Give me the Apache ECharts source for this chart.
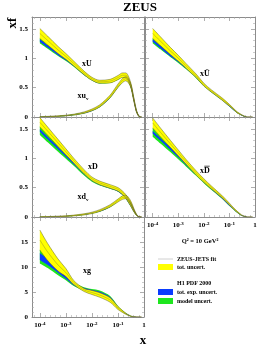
<!DOCTYPE html>
<html><head><meta charset="utf-8">
<script src="https://cdn.jsdelivr.net/npm/echarts@6/dist/echarts.min.js"></script>
<style>html,body{margin:0;padding:0;background:#fff}#c{width:269px;height:352px}</style>
</head><body><div id="c"></div>
<script>
// ---- data ----
const XS = [1e-4, 2e-4, 5e-4, 1e-3, 2e-3, 5e-3, 0.01, 0.02, 0.05, 0.1, 0.15, 0.2, 0.3, 0.4, 0.5, 0.6, 0.7, 0.8];
const X_TICKS = [1e-4, 1e-3, 1e-2, 1e-1, 1];

// xU
const xU_zeus    = [1.42, 1.30, 1.14, 1.03, 0.91, 0.75, 0.65, 0.60, 0.61, 0.67, 0.71, 0.71, 0.57, 0.32, 0.12, 0.03, 0.00, 0.00];
const xU_zeusErr = [0.085,0.075,0.06, 0.05, 0.04, 0.03, 0.025,0.025,0.03, 0.035,0.04, 0.04, 0.035,0.025,0.015,0.005,0.00, 0.00];
const xU_h1      = [1.30, 1.20, 1.07, 0.98, 0.88, 0.73, 0.64, 0.59, 0.60, 0.66, 0.70, 0.69, 0.56, 0.31, 0.12, 0.03, 0.00, 0.00];
const xU_h1Exp   = [0.02, 0.02, 0.02, 0.015,0.015,0.015,0.015,0.015,0.015,0.02, 0.02, 0.02, 0.02, 0.015,0.01, 0.005,0.00, 0.00];
const xU_h1Mod   = [0.045,0.04, 0.035,0.03, 0.025,0.02, 0.02, 0.02, 0.02, 0.025,0.025,0.025,0.025,0.02, 0.01, 0.005,0.00, 0.00];
// xu_v
const xuv_zeus    = [0.005,0.008,0.015,0.025,0.04, 0.075,0.12, 0.19, 0.35, 0.53, 0.62, 0.65, 0.55, 0.31, 0.11, 0.03, 0.00, 0.00];
const xuv_zeusErr = [0.002,0.003,0.005,0.006,0.008,0.012,0.015,0.018,0.022,0.03, 0.035,0.035,0.03, 0.02, 0.01, 0.004,0.00, 0.00];
const xuv_h1      = [0.005,0.008,0.014,0.023,0.038,0.07, 0.112,0.18, 0.34, 0.52, 0.615,0.645,0.54, 0.30, 0.105,0.028,0.00, 0.00];
const xuv_h1Exp   = [0.001,0.002,0.003,0.004,0.005,0.007,0.008,0.01, 0.012,0.015,0.015,0.015,0.015,0.01, 0.006,0.003,0.00, 0.00];
const xuv_h1Mod   = [0.002,0.003,0.004,0.006,0.008,0.01, 0.012,0.015,0.018,0.02, 0.02, 0.02, 0.02, 0.015,0.008,0.004,0.00, 0.00];
// xUbar
const xUb_zeus    = [1.42, 1.29, 1.12, 1.00, 0.87, 0.70, 0.55, 0.44, 0.31, 0.20, 0.13, 0.08, 0.035,0.01, 0.00, 0.00, 0.00, 0.00];
const xUb_zeusErr = [0.085,0.075,0.06, 0.05, 0.04, 0.03, 0.025,0.02, 0.02, 0.015,0.01, 0.01, 0.005,0.003,0.00, 0.00, 0.00, 0.00];
const xUb_h1      = [1.30, 1.19, 1.05, 0.95, 0.84, 0.68, 0.54, 0.43, 0.30, 0.19, 0.12, 0.075,0.03, 0.008,0.00, 0.00, 0.00, 0.00];
const xUb_h1Exp   = [0.02, 0.02, 0.02, 0.015,0.015,0.01, 0.01, 0.01, 0.01, 0.01, 0.008,0.006,0.004,0.002,0.00, 0.00, 0.00, 0.00];
const xUb_h1Mod   = [0.045,0.04, 0.035,0.03, 0.025,0.02, 0.015,0.015,0.012,0.012,0.01, 0.008,0.005,0.003,0.00, 0.00, 0.00, 0.00];
// xD
const xD_zeus    = [1.61, 1.46, 1.26, 1.11, 0.96, 0.77, 0.65, 0.58, 0.52, 0.47, 0.41, 0.35, 0.22, 0.11, 0.04, 0.01, 0.00, 0.00];
const xD_zeusErr = [0.08, 0.07, 0.06, 0.05, 0.04, 0.035,0.03, 0.03, 0.03, 0.03, 0.03, 0.03, 0.025,0.015,0.008,0.003,0.00, 0.00];
const xD_h1      = [1.47, 1.34, 1.17, 1.04, 0.91, 0.74, 0.63, 0.56, 0.50, 0.45, 0.39, 0.33, 0.20, 0.10, 0.04, 0.01, 0.00, 0.00];
const xD_h1Exp   = [0.02, 0.02, 0.02, 0.015,0.015,0.015,0.015,0.015,0.015,0.015,0.015,0.015,0.01, 0.008,0.004,0.002,0.00, 0.00];
const xD_h1Mod   = [0.075,0.07, 0.06, 0.05, 0.04, 0.035,0.03, 0.025,0.02, 0.02, 0.02, 0.02, 0.015,0.01, 0.005,0.002,0.00, 0.00];
// xd_v
const xdv_zeus    = [0.003,0.005,0.01, 0.015,0.025,0.045,0.07, 0.11, 0.19, 0.28, 0.33, 0.34, 0.26, 0.14, 0.05, 0.01, 0.00, 0.00];
const xdv_zeusErr = [0.002,0.003,0.004,0.005,0.007,0.01, 0.012,0.015,0.02, 0.025,0.03, 0.03, 0.025,0.015,0.008,0.003,0.00, 0.00];
const xdv_h1      = [0.003,0.005,0.01, 0.015,0.024,0.043,0.066,0.10, 0.18, 0.28, 0.34, 0.35, 0.24, 0.12, 0.045,0.01, 0.00, 0.00];
const xdv_h1Exp   = [0.001,0.001,0.002,0.003,0.004,0.005,0.006,0.008,0.01, 0.012,0.012,0.012,0.01, 0.008,0.004,0.002,0.00, 0.00];
const xdv_h1Mod   = [0.002,0.002,0.003,0.004,0.005,0.007,0.008,0.01, 0.014,0.016,0.016,0.016,0.014,0.01, 0.005,0.002,0.00, 0.00];
// xDbar
const xDb_zeus    = [1.60, 1.44, 1.24, 1.09, 0.94, 0.75, 0.62, 0.50, 0.35, 0.22, 0.14, 0.09, 0.03, 0.01, 0.00, 0.00, 0.00, 0.00];
const xDb_zeusErr = [0.085,0.075,0.06, 0.05, 0.04, 0.035,0.03, 0.025,0.02, 0.015,0.012,0.01, 0.006,0.003,0.00, 0.00, 0.00, 0.00];
const xDb_h1      = [1.44, 1.32, 1.16, 1.03, 0.90, 0.73, 0.60, 0.48, 0.33, 0.20, 0.13, 0.08, 0.025,0.008,0.00, 0.00, 0.00, 0.00];
const xDb_h1Exp   = [0.02, 0.02, 0.02, 0.015,0.015,0.012,0.01, 0.01, 0.01, 0.008,0.006,0.005,0.003,0.002,0.00, 0.00, 0.00, 0.00];
const xDb_h1Mod   = [0.075,0.07, 0.06, 0.05, 0.04, 0.03, 0.025,0.02, 0.015,0.012,0.01, 0.008,0.005,0.003,0.00, 0.00, 0.00, 0.00];
// xg
const xg_zeus    = [15.4, 13.0, 10.4, 8.9, 6.9, 5.4, 4.9, 4.4, 3.4, 1.8, 1.1, 0.65, 0.2, 0.05, 0.01, 0.00, 0.00, 0.00];
const xg_zeusErr = [2.0,  1.7,  1.2,  0.8, 0.4, 0.3, 0.4, 0.45,0.45,0.3, 0.2, 0.12, 0.05,0.02, 0.005,0.00, 0.00, 0.00];
const xg_h1      = [12.1, 11.0, 9.3,  8.0, 6.6, 5.6, 5.2, 4.85,3.8, 1.95,1.15,0.68, 0.2, 0.05, 0.01, 0.00, 0.00, 0.00];
const xg_h1Exp   = [0.7,  0.6,  0.45, 0.35,0.25,0.2, 0.2, 0.2, 0.2, 0.12,0.08,0.05, 0.02,0.01, 0.00, 0.00, 0.00, 0.00];
const xg_h1Mod   = [1.4,  1.2,  0.95, 0.65,0.4, 0.35,0.4, 0.45,0.4, 0.25,0.15,0.1,  0.04,0.02, 0.005,0.00, 0.00, 0.00];

// ---- styling ----
const SERIF = '"Liberation Serif", "DejaVu Serif", serif';
const YELLOW = '#ffff00', BLUE = '#0a3cff', GREEN = '#1ee61e', EDGE = '#5e5e22', MID = '#7a7a2a';
const AX = '#8c8c8c';
const LOGMIN = -4.301;  // log10 of the left edge (5e-5)

const grids = [
  {left: 32,  top: 17,  width: 112, height: 100},
  {left: 145, top: 17,  width: 110, height: 100},
  {left: 32,  top: 117, width: 112, height: 100},
  {left: 145, top: 117, width: 110, height: 100},
  {left: 32,  top: 217, width: 112, height: 100}
];
const yMax = [1.7, 1.7, 1.7, 1.7, 20];
const yInt = [0.5, 0.5, 0.5, 0.5, 5];
const showXLab = [false, false, false, true, true];
const showYLab = [true, false, true, false, true];

const tickExps = X_TICKS.map(t => Math.round(Math.log10(t)));
function xLabFmt(v) {
  const e = Math.round(v);
  if (Math.abs(v - e) > 0.01 || tickExps.indexOf(e) < 0) return '';
  if (e === 0) return '1';
  return '10{s|' + e + '}';
}

const xAxis = [], yAxis = [];
grids.forEach((g, i) => {
  const xc = {
    type: 'value', gridIndex: i, min: LOGMIN, max: 0, splitNumber: 4,
    splitLine: {show: false},
    axisLine: {show: true, onZero: false, lineStyle: {color: AX, width: 1}},
    axisTick: {show: true, inside: true, length: 4, lineStyle: {color: AX, width: 0.7}},
    minorTick: {show: true, splitNumber: 5, length: 2, lineStyle: {color: '#aaa', width: 0.6}}
  };
  xAxis.push(Object.assign({}, xc, {position: 'bottom', axisLabel: {
    show: showXLab[i], formatter: xLabFmt, margin: 4, color: '#000',
    fontFamily: SERIF, fontWeight: 'bold', fontSize: 7, lineHeight: 9,
    rich: {s: {fontSize: 5, fontFamily: SERIF, fontWeight: 'bold', verticalAlign: 'top', lineHeight: 5}}
  }}));
  xAxis.push(Object.assign({}, xc, {position: 'top', axisLabel: {show: false}}));
  const yc = {
    type: 'value', gridIndex: i, min: 0, max: yMax[i], interval: yInt[i],
    splitLine: {show: false},
    axisLine: {show: true, onZero: false, lineStyle: {color: AX, width: 1}},
    axisTick: {show: true, inside: true, length: 4, lineStyle: {color: AX, width: 0.7}},
    minorTick: {show: true, splitNumber: 5, length: 2, lineStyle: {color: '#aaa', width: 0.6}}
  };
  yAxis.push(Object.assign({}, yc, {position: 'left', axisLabel: {
    show: showYLab[i], showMaxLabel: false, margin: 4, color: '#000',
    fontFamily: SERIF, fontWeight: 'bold', fontSize: 7
  }}));
  yAxis.push(Object.assign({}, yc, {position: 'right', axisLabel: {show: false}}));
});

const LX_DATA = XS.map(x => Math.log10(x));
const series = [];
let sid = 0;
// points are [y, log10 x] so that the stacked (first numeric) dimension is y
function pts(vals) { return LX_DATA.map((x, k) => [vals[k], x]); }
function band(gi, lo, hi, color, z, edge) {
  const st = 'b' + (sid++);
  const ls = edge ? {color: EDGE, width: 0.5} : {width: 0, opacity: 0};
  const common = {type: 'line', xAxisIndex: gi * 2, yAxisIndex: gi * 2, stack: st, stackStrategy: 'all',
    encode: {x: 1, y: 0}, showSymbol: false, symbol: 'none', smooth: 0.3, silent: true, animation: false, z: z};
  series.push(Object.assign({}, common, {data: pts(lo), lineStyle: ls}));
  series.push(Object.assign({}, common, {data: pts(hi.map((v, k) => v - lo[k])), lineStyle: ls,
    areaStyle: {color: color, opacity: 1}}));
}
function pdf(gi, zc, ze, hc, he, hm) {
  band(gi, hc.map((v, k) => v - hm[k]), hc.map((v, k) => v + hm[k]), GREEN, 2, false);
  band(gi, hc.map((v, k) => v - he[k]), hc.map((v, k) => v + he[k]), BLUE, 3, false);
  band(gi, zc.map((v, k) => v - ze[k]), zc.map((v, k) => v + ze[k]), YELLOW, 4, true);
  series.push({type: 'line', xAxisIndex: gi * 2, yAxisIndex: gi * 2, showSymbol: false, symbol: 'none',
    encode: {x: 1, y: 0}, smooth: 0.3, silent: true, animation: false, z: 5,
    data: pts(zc), lineStyle: {color: MID, width: 0.4}});
}
pdf(0, xU_zeus, xU_zeusErr, xU_h1, xU_h1Exp, xU_h1Mod);
pdf(0, xuv_zeus, xuv_zeusErr, xuv_h1, xuv_h1Exp, xuv_h1Mod);
pdf(1, xUb_zeus, xUb_zeusErr, xUb_h1, xUb_h1Exp, xUb_h1Mod);
pdf(2, xD_zeus, xD_zeusErr, xD_h1, xD_h1Exp, xD_h1Mod);
pdf(2, xdv_zeus, xdv_zeusErr, xdv_h1, xdv_h1Exp, xdv_h1Mod);
pdf(3, xDb_zeus, xDb_zeusErr, xDb_h1, xDb_h1Exp, xDb_h1Mod);
pdf(4, xg_zeus, xg_zeusErr, xg_h1, xg_h1Exp, xg_h1Mod);

function txt(text, x, y, size, extra) {
  return Object.assign({type: 'text', x: x, y: y, z: 20, style: Object.assign({
    text: text, fill: '#000', fontFamily: SERIF, fontWeight: 'bold', fontSize: size,
    textAlign: 'center', textVerticalAlign: 'middle'}, extra || {})});
}
const subRich = {s: {fontSize: 5, fontFamily: SERIF, fontWeight: 'bold', verticalAlign: 'bottom', lineHeight: 5}};
const LX = 158;
const graphic = [
  txt('ZEUS', 140, 8, 13),
  Object.assign(txt('xf', 13, 23, 13), {rotation: Math.PI / 2}),
  txt('x', 143, 341, 13),
  txt('xU', 87, 64, 8),
  txt('xu{s|v}', 83, 96, 8, {rich: subRich, lineHeight: 10}),
  txt('xŪ', 205, 74, 8),
  txt('xD', 93, 167, 8),
  txt('xd{s|v}', 83, 197, 8, {rich: subRich, lineHeight: 10}),
  txt('xD', 205, 171, 8),
  {type: 'line', z: 20, shape: {x1: 204.3, y1: 166.2, x2: 209.7, y2: 166.2}, style: {stroke: '#000', lineWidth: 0.7}},
  txt('xg', 87, 271, 8),
  txt('Q² = 10 GeV²', 200, 241, 6.5),
  {type: 'line', z: 20, shape: {x1: LX, y1: 259, x2: LX + 15, y2: 259}, style: {stroke: '#d0d0d0', lineWidth: 1}},
  txt('ZEUS-JETS fit', 177, 259, 6, {textAlign: 'left'}),
  {type: 'rect', z: 20, shape: {x: LX, y: 264, width: 15, height: 6}, style: {fill: YELLOW}},
  txt('tot. uncert.', 177, 267, 6, {textAlign: 'left'}),
  txt('H1 PDF 2000', 177, 283, 6, {textAlign: 'left'}),
  {type: 'rect', z: 20, shape: {x: LX, y: 289, width: 15, height: 6}, style: {fill: BLUE}},
  txt('tot. exp. uncert.', 177, 292, 6, {textAlign: 'left'}),
  {type: 'rect', z: 20, shape: {x: LX, y: 298, width: 15, height: 6}, style: {fill: GREEN}},
  txt('model uncert.', 177, 301, 6, {textAlign: 'left'})
];

const chart = echarts.init(document.getElementById('c'), null, {renderer: 'canvas'});
chart.setOption({
  animation: false,
  backgroundColor: '#fff',
  grid: grids,
  xAxis: xAxis,
  yAxis: yAxis,
  series: series,
  graphic: graphic
});
</script></body></html>
